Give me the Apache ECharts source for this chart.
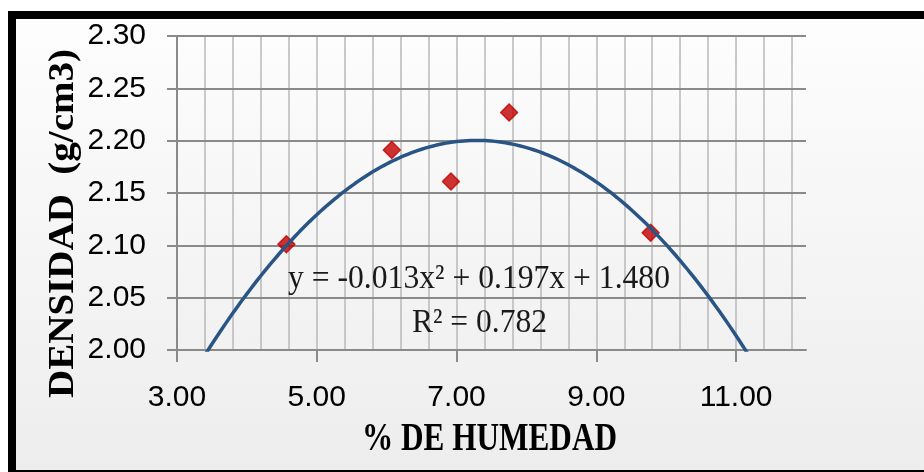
<!DOCTYPE html>
<html>
<head>
<meta charset="utf-8">
<script src="https://cdn.jsdelivr.net/npm/echarts@6/dist/echarts.min.js"></script>
<style>
  html, body { margin: 0; padding: 0; background: #ffffff; overflow: hidden; }
  #wrap { position: relative; width: 924px; height: 472px; }
  #frame {
    position: absolute; left: 8px; top: 11px;
    width: 908px; height: 451px;
    border-left: 8px solid #000; border-top: 8px solid #000; border-bottom: 2px solid #000;
    background: linear-gradient(#fdfdfd, #ededed);
  }
  #chart { position: absolute; left: 0; top: 0; width: 924px; height: 472px; }
</style>
</head>
<body>
<div id="wrap"><div id="frame"></div><div id="chart"></div></div>
<script>
// Proctor test: moisture content (%) vs. dry density (g/cm3)
const humedad  = [4.565, 6.073, 6.92, 7.752, 9.777];
const densidad = [2.101, 2.191, 2.161, 2.227, 2.112];

// Axis ticks
const xTicks = [3, 5, 7, 9, 11];
const yTicks = [2.00, 2.05, 2.10, 2.15, 2.20, 2.25, 2.30];
const xMax = 12;

// Trendline caption
const ecuacion = 'y = -0.013x\u00b2 + 0.197x + 1.480';
const r2Texto  = 'R\u00b2 = 0.782';

const tituloX = '% DE HUMEDAD';
const tituloY = 'DENSIDAD  (g/cm3)';

// Minor vertical grid every 0.4 from the axis start
const xGrid = [];
for (let k = 1; xTicks[0] + 0.4 * k < xMax - 1e-9; k++) {
  xGrid.push(Math.round((xTicks[0] + 0.4 * k) * 10) / 10);
}

// Least-squares quadratic fit y = a x^2 + b x + c
function ajusteCuadratico(xs, ys) {
  const n = xs.length;
  let s1 = 0, s2 = 0, s3 = 0, s4 = 0, sy = 0, sxy = 0, sx2y = 0;
  for (let i = 0; i < n; i++) {
    const x = xs[i], y = ys[i];
    s1 += x; s2 += x * x; s3 += x * x * x; s4 += x * x * x * x;
    sy += y; sxy += x * y; sx2y += x * x * y;
  }
  const M = [[s4, s3, s2, sx2y], [s3, s2, s1, sxy], [s2, s1, n, sy]];
  for (let c = 0; c < 3; c++) {
    let p = c;
    for (let r = c + 1; r < 3; r++) if (Math.abs(M[r][c]) > Math.abs(M[p][c])) p = r;
    [M[c], M[p]] = [M[p], M[c]];
    for (let r = 0; r < 3; r++) {
      if (r === c) continue;
      const f = M[r][c] / M[c][c];
      for (let k = c; k < 4; k++) M[r][k] -= f * M[c][k];
    }
  }
  return [M[0][3] / M[0][0], M[1][3] / M[1][1], M[2][3] / M[2][2]];
}

const coef = ajusteCuadratico(humedad, densidad);
const curva = [];
for (let x = xTicks[0]; x <= xMax + 1e-9; x += 0.05) {
  curva.push([x, coef[0] * x * x + coef[1] * x + coef[2]]);
}
const puntos = humedad.map((h, i) => [h, densidad[i]]);

// Horizontal squeeze so a caption spans a given width
const ctx = document.createElement('canvas').getContext('2d');
function escala(texto, font, ancho) {
  ctx.font = font;
  return ancho / ctx.measureText(texto).width;
}
const fEq = '34px "Liberation Serif"';
const fTit = 'bold 39px "Liberation Serif"';
const fTitY = 'bold 40px "Liberation Serif"';

const chart = echarts.init(document.getElementById('chart'), null, { renderer: 'canvas' });
const ejeGris = '#8a8a8a';
chart.setOption({
  animation: false,
  backgroundColor: 'transparent',
  grid: { left: 177, top: 36, width: 629, height: 314, containLabel: false },
  xAxis: [
    {
      type: 'value', min: xTicks[0], max: xMax, position: 'bottom',
      axisLine: { show: true, lineStyle: { color: ejeGris, width: 2 } },
      axisTick: { show: true, customValues: xTicks, length: 12, lineStyle: { color: ejeGris, width: 2 } },
      axisLabel: {
        customValues: xTicks, formatter: v => v.toFixed(2),
        fontFamily: 'Liberation Sans', fontSize: 30, color: '#000', margin: 33
      },
      splitLine: { show: false }
    },
    {
      type: 'value', min: xTicks[0], max: xMax, position: 'top',
      axisLine: { show: false },
      axisTick: { show: false, customValues: xGrid },
      axisLabel: { show: false, customValues: xGrid },
      splitLine: { show: true, lineStyle: { color: '#b8b8b8', width: 1.5 } }
    }
  ],
  yAxis: {
    type: 'value', min: yTicks[0], max: yTicks[yTicks.length - 1], interval: 0.05, z: 1,
    axisLine: { show: true, lineStyle: { color: ejeGris, width: 2 } },
    axisTick: { show: true, customValues: yTicks, length: 10, lineStyle: { color: ejeGris, width: 2 } },
    axisLabel: {
      customValues: yTicks, formatter: v => v.toFixed(2),
      fontFamily: 'Liberation Sans', fontSize: 30, color: '#000', margin: 31
    },
    splitLine: { show: true, lineStyle: { color: ejeGris, width: 2 } }
  },
  series: [
    {
      type: 'scatter', xAxisIndex: 0, data: puntos, z: 3,
      symbol: 'diamond', symbolSize: 17,
      itemStyle: { color: '#c00000', borderColor: '#c00000', borderWidth: 1.5, borderJoin: 'round' }
    },
    {
      type: 'line', xAxisIndex: 0, data: curva, z: 4, clip: true,
      showSymbol: false, smooth: false,
      lineStyle: { color: '#285585', width: 3.5 }
    }
  ],
  graphic: [
    {
      type: 'text', x: 479, y: 279.5, z: 10, scaleX: escala(ecuacion, fEq, 382),
      style: { text: ecuacion, font: fEq, fill: '#1a1a1a', align: 'center', verticalAlign: 'middle', textAlign: 'center', textVerticalAlign: 'middle' }
    },
    {
      type: 'text', x: 479.5, y: 323.5, z: 10, scaleX: escala(r2Texto, fEq, 135),
      style: { text: r2Texto, font: fEq, fill: '#1a1a1a', align: 'center', verticalAlign: 'middle', textAlign: 'center', textVerticalAlign: 'middle' }
    },
    {
      type: 'text', x: 489.5, y: 440, z: 10, scaleX: escala(tituloX, fTit, 255),
      style: { text: tituloX, font: fTit, fill: '#000', align: 'center', verticalAlign: 'middle', textAlign: 'center', textVerticalAlign: 'middle' }
    },
    {
      type: 'text', x: 64, y: 223.5, z: 10, rotation: Math.PI / 2,
      scaleX: escala(tituloY, fTitY, 349), scaleY: 0.87,
      style: { text: tituloY, font: fTitY, fill: '#000', align: 'center', verticalAlign: 'middle', textAlign: 'center', textVerticalAlign: 'middle' }
    }
  ]
});
</script>
</body>
</html>
